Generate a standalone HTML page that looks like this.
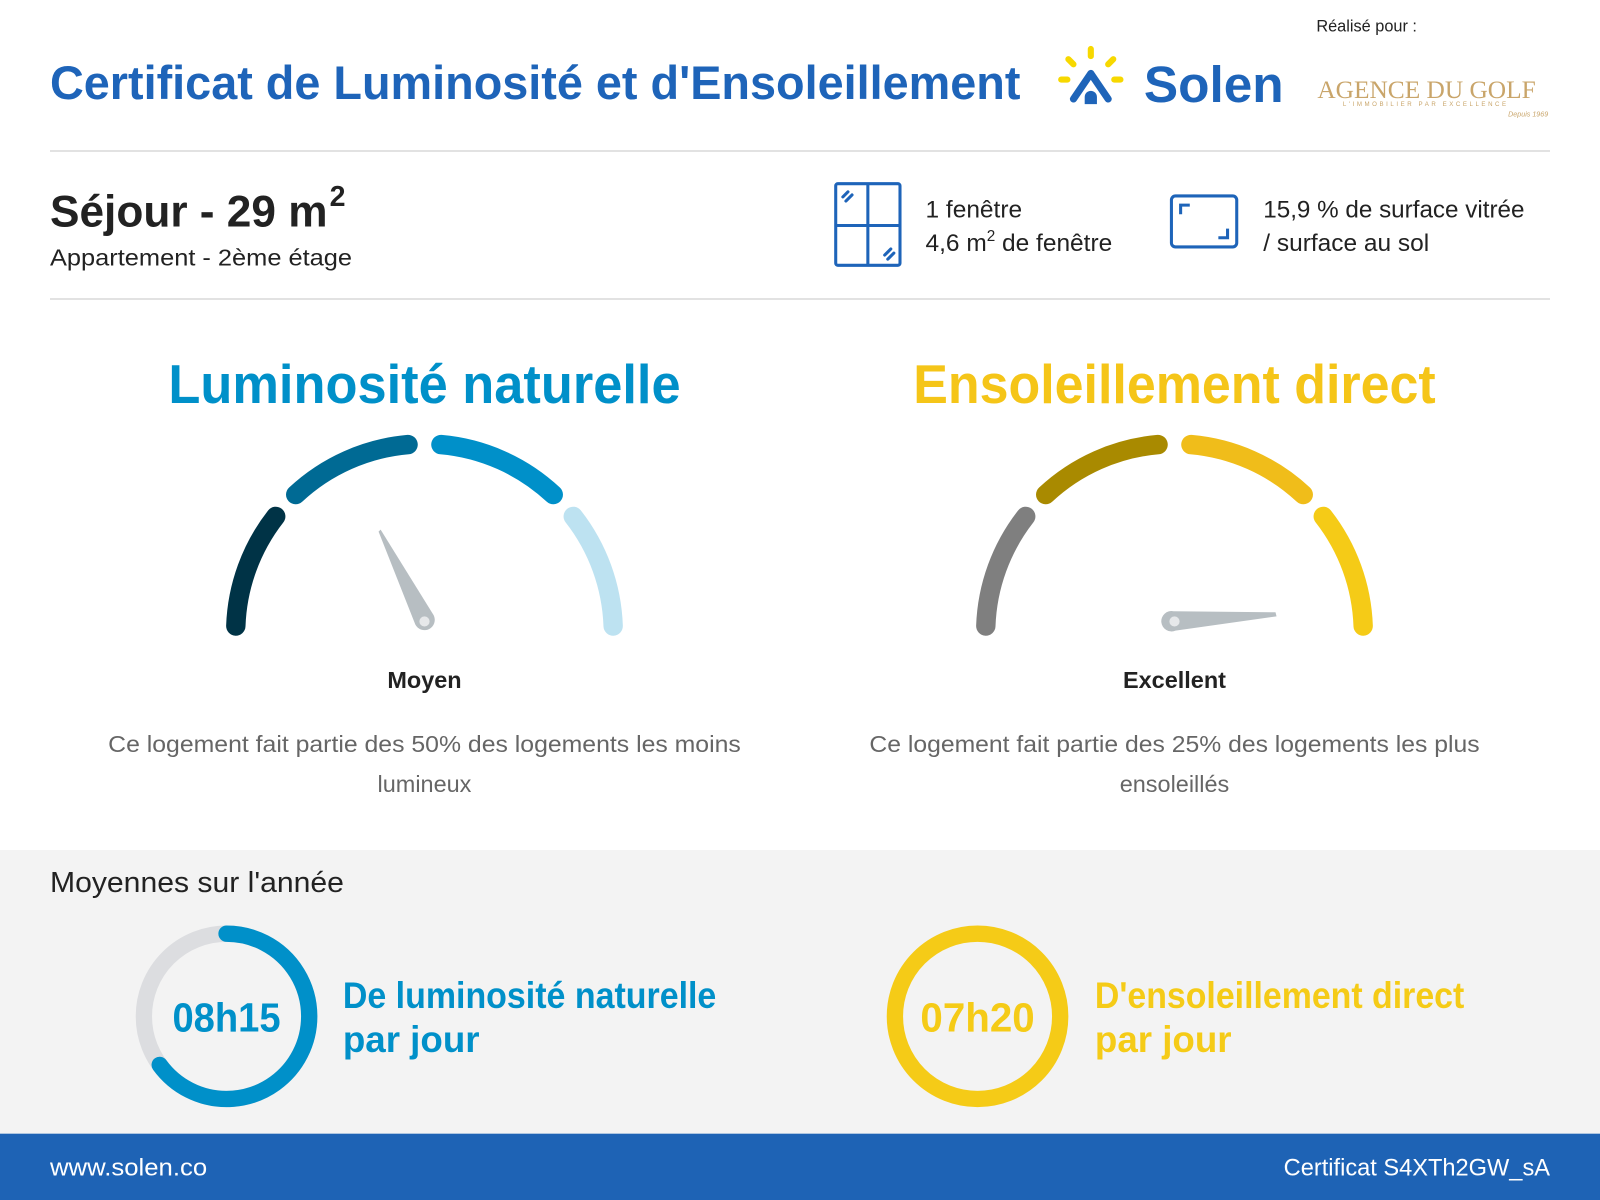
<!DOCTYPE html>
<html><head><meta charset="utf-8"><style>
html,body{margin:0;padding:0;background:#fff;}
svg{display:block;}
text{font-family:"Liberation Sans",sans-serif;}
</style></head><body>
<svg width="1600" height="1200" viewBox="0 0 1568 1176" xmlns="http://www.w3.org/2000/svg">
<rect width="1568" height="1176" fill="#fff"/>
<!-- header -->
<text x="49" y="97" font-size="46" font-weight="bold" fill="#1e64b9" textLength="951" lengthAdjust="spacingAndGlyphs">Certificat de Luminosité et d'Ensoleillement</text>
<g stroke-linecap="round" fill="none">
<line x1="1069" y1="48" x2="1069" y2="55" stroke="#f7d800" stroke-width="6"/>
<line x1="1047" y1="58" x2="1052" y2="63" stroke="#f7d800" stroke-width="6"/>
<line x1="1091" y1="58" x2="1086" y2="63" stroke="#f7d800" stroke-width="6"/>
<line x1="1040" y1="78" x2="1046" y2="78" stroke="#f7d800" stroke-width="6"/>
<line x1="1098" y1="78" x2="1092" y2="78" stroke="#f7d800" stroke-width="6"/>
<polyline points="1052,97 1069,72 1086,97" stroke="#1e64b9" stroke-width="7" stroke-linejoin="round"/>
</g>
<path d="M1063,102 V95 a6,6 0 0 1 12,0 V102 Z" fill="#1e64b9"/>
<text x="1121" y="100" font-size="50" font-weight="bold" fill="#1e64b9" textLength="137" lengthAdjust="spacingAndGlyphs">Solen</text>
<text x="1290" y="31" font-size="16" fill="#222">Réalisé pour :</text>
<text x="1291" y="96" font-size="25" style="font-family:'Liberation Serif',serif" fill="#c9a56a" textLength="214" lengthAdjust="spacingAndGlyphs">AGENCE DU GOLF</text>
<text x="1316" y="104" font-size="6" fill="#c9a56a" textLength="160" lengthAdjust="spacing">L'IMMOBILIER PAR EXCELLENCE</text>
<text x="1478" y="114" font-size="7" font-style="italic" fill="#c9a56a">Depuis 1969</text>
<line x1="49" y1="148" x2="1519" y2="148" stroke="#e2e2e2" stroke-width="2"/>
<line x1="49" y1="293" x2="1519" y2="293" stroke="#e2e2e2" stroke-width="2"/>
<!-- room -->
<text x="49" y="222" font-size="44" font-weight="bold" fill="#222" textLength="272" lengthAdjust="spacingAndGlyphs">Séjour - 29 m</text>
<text x="323" y="202" font-size="28" font-weight="bold" fill="#222">2</text>
<text x="49" y="260" font-size="23" fill="#222" textLength="296" lengthAdjust="spacingAndGlyphs">Appartement - 2ème étage</text>
<!-- window icon -->
<g stroke="#1e64b9" fill="none" stroke-width="3">
<rect x="819" y="180" width="63" height="80" rx="2"/>
<line x1="850.5" y1="180" x2="850.5" y2="260"/>
<line x1="819" y1="221" x2="882" y2="221"/>
<line x1="826" y1="193" x2="831" y2="188" stroke-linecap="round"/>
<line x1="829" y1="197" x2="835" y2="191" stroke-linecap="round"/>
<line x1="867" y1="250" x2="873" y2="244" stroke-linecap="round"/>
<line x1="870" y1="254" x2="876" y2="248" stroke-linecap="round"/>
<rect x="1148" y="192" width="64" height="50" rx="4"/>
<polyline points="1157,210 1157,201 1166,201"/>
<polyline points="1203,224 1203,233 1194,233"/>
</g>
<text x="907" y="213" font-size="24" fill="#222">1 fenêtre</text>
<text x="907" y="246" font-size="24" fill="#222">4,6 m<tspan dy="-10" font-size="15">2</tspan><tspan dy="10"> de fenêtre</tspan></text>
<text x="1238" y="213" font-size="24" fill="#222" textLength="256" lengthAdjust="spacingAndGlyphs">15,9 % de surface vitrée</text>
<text x="1238" y="246" font-size="24" fill="#222">/ surface au sol</text>
<!-- section titles -->
<text x="416" y="395" text-anchor="middle" font-size="54" font-weight="bold" fill="#0090c9" textLength="502" lengthAdjust="spacingAndGlyphs">Luminosité naturelle</text>
<text x="1151" y="395" text-anchor="middle" font-size="54" font-weight="bold" fill="#f5c518" textLength="512" lengthAdjust="spacingAndGlyphs">Ensoleillement direct</text>
<!-- gauges -->
<g fill="none" stroke-width="19" stroke-linecap="round">
<path d="M231.1,613.5 A185,185 0 0 1 270.2,506.1" stroke="#003346"/>
<path d="M289.8,484.7 A185,185 0 0 1 399.9,435.7" stroke="#006a94"/>
<path d="M432.1,435.7 A185,185 0 0 1 542.2,484.7" stroke="#0090c9"/>
<path d="M561.8,506.1 A185,185 0 0 1 600.9,613.5" stroke="#bde2f1"/>
<path d="M966.1,613.5 A185,185 0 0 1 1005.2,506.1" stroke="#7f7f7f"/>
<path d="M1024.8,484.7 A185,185 0 0 1 1134.9,435.7" stroke="#a98a00"/>
<path d="M1167.1,435.7 A185,185 0 0 1 1277.2,484.7" stroke="#f0bd1a"/>
<path d="M1296.8,506.1 A185,185 0 0 1 1335.9,613.5" stroke="#f5cb17"/>
</g>
<path d="M371,521 L373,519 L425,603 A10,10 0 1 1 407,612 Z" fill="#b7bec2"/>
<circle cx="416" cy="609" r="5" fill="#e6e8ea"/>
<path d="M1250,600 L1251,604 L1152,618 A10,10 0 1 1 1150,599 Z" fill="#b7bec2"/>
<circle cx="1151" cy="609" r="5" fill="#e6e8ea"/>
<text x="416" y="674" text-anchor="middle" font-size="23" font-weight="bold" fill="#222">Moyen</text>
<text x="1151" y="674" text-anchor="middle" font-size="23" font-weight="bold" fill="#222">Excellent</text>
<text x="416" y="737" text-anchor="middle" font-size="23" fill="#666" textLength="620" lengthAdjust="spacingAndGlyphs">Ce logement fait partie des 50% des logements les moins</text>
<text x="416" y="776" text-anchor="middle" font-size="23" fill="#666">lumineux</text>
<text x="1151" y="737" text-anchor="middle" font-size="23" fill="#666" textLength="598" lengthAdjust="spacingAndGlyphs">Ce logement fait partie des 25% des logements les plus</text>
<text x="1151" y="776" text-anchor="middle" font-size="23" fill="#666">ensoleillés</text>
<!-- bottom section -->
<rect x="0" y="833" width="1568" height="278" fill="#f3f3f3"/>
<text x="49" y="874" font-size="28" fill="#222" textLength="288" lengthAdjust="spacingAndGlyphs">Moyennes sur l'année</text>
<circle cx="222" cy="996" r="81" fill="none" stroke="#dcdde0" stroke-width="16"/>
<path d="M222,915 A81,81 0 1 1 156.5,1043.6" fill="none" stroke="#0090c9" stroke-width="16" stroke-linecap="round"/>
<text x="222" y="1011" text-anchor="middle" font-size="40" font-weight="bold" fill="#0090c9" textLength="106" lengthAdjust="spacingAndGlyphs">08h15</text>
<text x="336" y="988" font-size="36" font-weight="bold" fill="#0090c9" textLength="366" lengthAdjust="spacingAndGlyphs">De luminosité naturelle</text>
<text x="336" y="1031" font-size="36" font-weight="bold" fill="#0090c9">par jour</text>
<circle cx="958" cy="996" r="81" fill="none" stroke="#f5cb17" stroke-width="16"/>
<text x="958" y="1011" text-anchor="middle" font-size="40" font-weight="bold" fill="#f5cb17" textLength="112" lengthAdjust="spacingAndGlyphs">07h20</text>
<text x="1073" y="988" font-size="36" font-weight="bold" fill="#f5cb17" textLength="362" lengthAdjust="spacingAndGlyphs">D'ensoleillement direct</text>
<text x="1073" y="1031" font-size="36" font-weight="bold" fill="#f5cb17">par jour</text>
<!-- footer -->
<rect x="0" y="1111" width="1568" height="65" fill="#1e63b5"/>
<text x="49" y="1152" font-size="24" fill="#fff" textLength="154" lengthAdjust="spacingAndGlyphs">www.solen.co</text>
<text x="1519" y="1152" text-anchor="end" font-size="24" fill="#fff" textLength="261" lengthAdjust="spacingAndGlyphs">Certificat S4XTh2GW_sA</text>
</svg>
</body></html>
